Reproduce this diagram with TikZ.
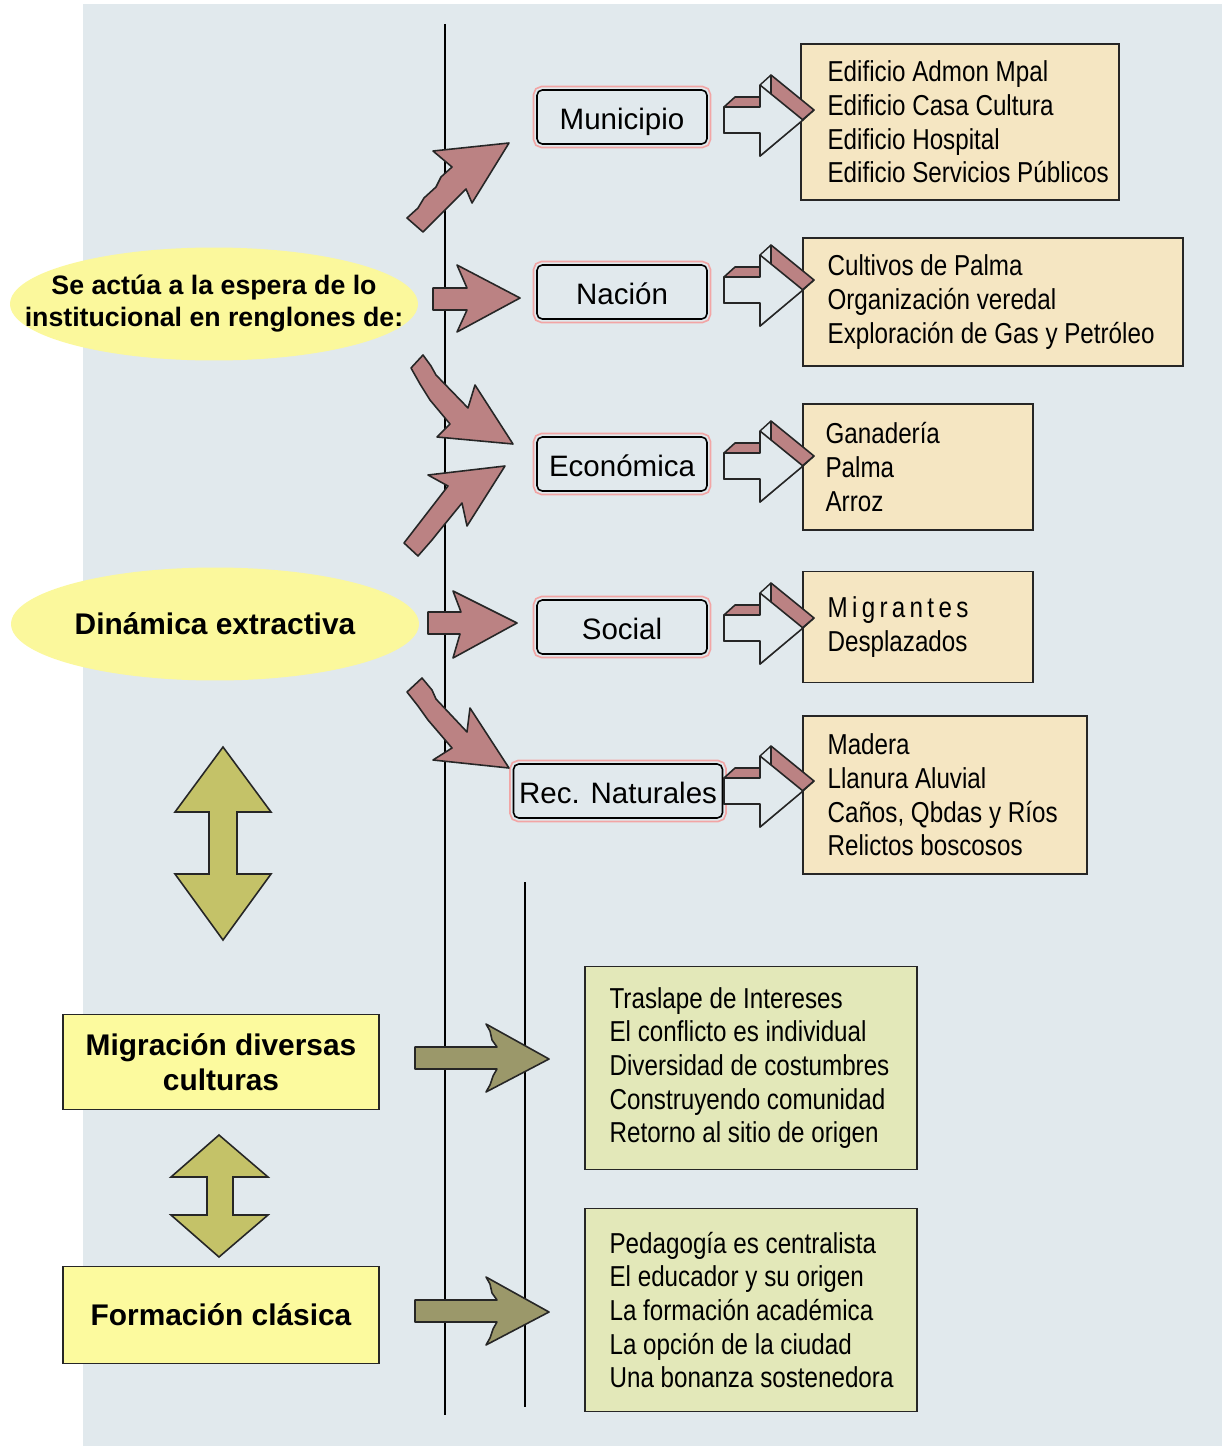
\documentclass[tikz,border=0pt]{standalone}
\usepackage{fontspec}
\setmainfont{Liberation Sans}
\newfontfamily\narrowfont[FakeStretch=0.84]{Liberation Sans}
\usetikzlibrary{shapes.geometric}

\definecolor{bgblue}{RGB}{225,233,237}
\definecolor{arrowpink}{RGB}{187,130,131}
\definecolor{framepink}{RGB}{242,165,165}
\definecolor{ellyellow}{RGB}{251,248,156}
\definecolor{boxyellow}{RGB}{252,250,158}
\definecolor{tanbox}{RGB}{245,230,194}
\definecolor{greenbox}{RGB}{227,232,185}
\definecolor{olive}{RGB}{196,194,104}
\definecolor{olivedark}{RGB}{155,152,106}

\tikzset{
  catbox/.style={draw=black, line width=0.9pt, fill=bgblue, rounded corners=3pt,
    minimum width=3.4cm, minimum height=1.08cm, inner sep=0pt,
    text height=0.52cm, text depth=0.02cm,
    font=\fontsize{16.8}{20}\selectfont,
    preaction={draw=framepink, line width=5pt},
    preaction={draw=bgblue, line width=3pt}},
  listbox/.style={draw=black!85, line width=0.9pt, inner sep=0pt},
  listtext/.style={anchor=west, align=left, inner sep=0pt,
    font=\narrowfont\fontsize{16.4}{19.1}\selectfont},
  oval/.style={ellipse, fill=ellyellow, minimum width=8.16cm, minimum height=2.26cm,
    inner sep=0pt, align=center},
  yelbox/.style={draw=black!85, line width=0.9pt, fill=boxyellow, minimum width=6.32cm,
    align=center, font=\bfseries\fontsize{17}{19.9}\selectfont},
  pinkblock/.style={fill=arrowpink, draw=black!85, line width=0.9pt, line join=round},
  oliveblock/.style={fill=olive, draw=black!85, line width=0.9pt},
  olivearrow/.style={fill=olivedark, draw=black!85, line width=0.9pt, line join=round},
}

% contorno de la flecha hueca
\newcommand{\frontarrow}{(724,-13) -- (760,-13) -- (760,-35) -- (803,0) -- (760,36) -- (760,13) -- (724,13) -- cycle}
\newcommand{\hollowarrow}[1]{%
  \begin{scope}[shift={(0,#1)}]
    \filldraw[pinkblock] (724,-13) -- (735,-23) -- (771,-23) -- (771,-45) -- (814,-10) -- (760,36) -- (760,13) -- (724,13) -- cycle;
    \draw[black!85, line width=0.8pt] (760,-35) -- (771,-45) (803,0) -- (814,-10) (760,-13) -- (771,-23);
    \filldraw[fill=bgblue, draw=black!85, line width=0.9pt, line join=round] \frontarrow;
  \end{scope}}

\begin{document}
\begin{tikzpicture}[x=0.02cm, y=-0.02cm]
  \useasboundingbox (0,0) rectangle (1222,1446);

  % Fondo
  \fill[bgblue] (83,4) rectangle (1222,1446);

  % Lineas verticales
  \coordinate (l1a) at (445,24);
  \coordinate (l1b) at (445,1415);
  \coordinate (l2a) at (525,882);
  \coordinate (l2b) at (525,1407);
  \draw[line width=1.1pt] (l1a) -- (l1b);
  \draw[line width=1.1pt] (l2a) -- (l2b);

  % Elipses
  \node[oval, inner xsep=-0.9cm, font=\bfseries\fontsize{15.2}{18.2}\selectfont] (espera) at (214,304)
    {Se actúa a la espera de lo\\institucional en renglones de:};
  \node[oval, font=\bfseries\fontsize{17}{20}\selectfont] (dinamica) at (215,624)
    {Dinámica extractiva};

  % Renglones
  \node[catbox] (mun) at (622,117) {Municipio};
  \node[catbox] (nac) at (622,292) {Nación};
  \node[catbox] (eco) at (622,464) {Económica};
  \node[catbox] (soc) at (622,627) {Social};
  \node[catbox, minimum width=4.18cm] (rec) at (618,791) {Rec. Naturales};

  % Flechas rosadas hacia los renglones
  \filldraw[pinkblock] (407,218) -- (423,232) -- (466,189) -- (472,203) -- (509,143) -- (433,151) -- (452,167) -- (441,177) -- (436,187) -- (424,198) -- (418,208) -- cycle;
  \filldraw[pinkblock] (433,288) -- (467,288) -- (457,265) -- (520,298) -- (457,332) -- (467,310) -- (433,310) -- cycle;
  \filldraw[pinkblock] (423,355) -- (431,366) -- (436,375) -- (468,408) -- (475,385) -- (513,444) -- (437,437) -- (450,424) -- (430,400) -- (420,384) -- (411,368) -- cycle;
  \filldraw[pinkblock] (404,543) -- (418,556) -- (432,540) -- (440,530) -- (462,503) -- (467,526) -- (505,466) -- (428,475) -- (448,486) -- cycle;
  \filldraw[pinkblock] (428,612) -- (461,612) -- (453,591) -- (517,623) -- (453,658) -- (460,634) -- (428,634) -- cycle;
  \filldraw[pinkblock] (422,678) -- (432,690) -- (436,699) -- (467,732) -- (470,708) -- (509,768) -- (433,760) -- (452,748) -- (428,720) -- (418,706) -- (407,692) -- cycle;

  % Cuadros de detalle
  \node[listbox, fill=tanbox, minimum width=6.36cm, minimum height=3.12cm] (dmun) at (960,122) {};
  \node[listtext] (tmun) at ([xshift=0.54cm]dmun.west)
    {Edificio Admon Mpal\\Edificio Casa Cultura\\Edificio Hospital\\Edificio Servicios Públicos};
  \node[listbox, fill=tanbox, minimum width=7.6cm, minimum height=2.56cm] (dnac) at (993,302) {};
  \node[listtext] (tnac) at ([xshift=0.5cm]dnac.west)
    {Cultivos de Palma\\Organización veredal\\Exploración de Gas y Petróleo};
  \node[listbox, fill=tanbox, minimum width=4.6cm, minimum height=2.52cm] (deco) at (918,467) {};
  \node[listtext] (teco) at ([xshift=0.46cm]deco.west)
    {Ganadería\\Palma\\Arroz};
  \node[listbox, fill=tanbox, minimum width=4.6cm, minimum height=2.22cm] (dsoc) at (918,627) {};
  \node[listtext] (tsoc) at ([xshift=0.5cm]dsoc.west)
    {\addfontfeature{LetterSpace=15}Migrantes\\Desplazados};
  \node[listbox, fill=tanbox, minimum width=5.68cm, minimum height=3.16cm] (drec) at (945,795) {};
  \node[listtext] (trec) at ([xshift=0.5cm]drec.west)
    {Madera\\Llanura Aluvial\\Caños, Qbdas y Ríos\\Relictos boscosos};

  % Flechas huecas
  \hollowarrow{120}
  \hollowarrow{290}
  \hollowarrow{466}
  \hollowarrow{628}
  \hollowarrow{791}

  % Migracion y formacion
  \node[yelbox, minimum height=1.9cm] (mig) at (221,1062) {Migración diversas\\culturas};
  \node[yelbox, minimum height=1.94cm] (for) at (221,1315) {Formación clásica};

  % Flechas dobles
  \filldraw[oliveblock] (223,747) -- (271,812) -- (237,812) -- (237,874) -- (271,874) -- (223,940) -- (175,874) -- (209,874) -- (209,812) -- (175,812) -- cycle;
  \filldraw[oliveblock] (219,1135) -- (268,1177) -- (233,1177) -- (233,1215) -- (268,1215) -- (219,1257) -- (171,1215) -- (207,1215) -- (207,1177) -- (171,1177) -- cycle;

  % Flechas hacia los cuadros verdes
  \filldraw[olivearrow] (415,1047) -- (497,1047) -- (492,1040) -- (490,1031) -- (486,1024) -- (549,1059) -- (486,1092) -- (490,1085) -- (493,1076) -- (497,1069) -- (415,1069) -- cycle;
  \filldraw[olivearrow] (415,1300) -- (497,1300) -- (492,1293) -- (490,1284) -- (486,1277) -- (549,1312) -- (486,1345) -- (490,1338) -- (493,1329) -- (497,1322) -- (415,1322) -- cycle;

  % Cuadros verdes
  \node[listbox, fill=greenbox, minimum width=6.64cm, minimum height=4.06cm] (dmig) at (751,1068) {};
  \node[listtext] (tmig) at ([xshift=0.5cm]dmig.west)
    {Traslape de Intereses\\El conflicto es individual\\Diversidad de costumbres\\Construyendo comunidad\\Retorno al sitio de origen};
  \node[listbox, fill=greenbox, minimum width=6.64cm, minimum height=4.06cm] (dfor) at (751,1310) {};
  \node[listtext] (tfor) at ([xshift=0.5cm]dfor.west)
    {Pedagogía es centralista\\El educador y su origen\\La formación académica\\La opción de la ciudad\\Una bonanza sostenedora};
\end{tikzpicture}
\end{document}
